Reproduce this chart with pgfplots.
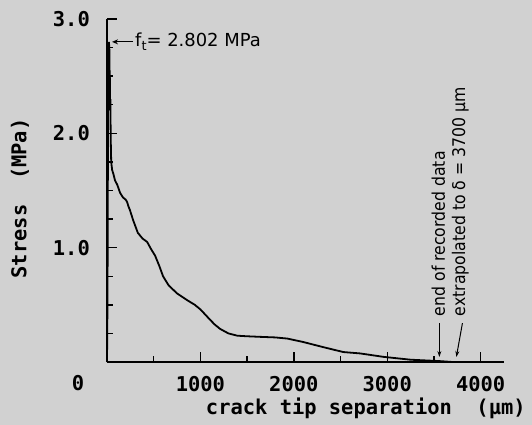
\documentclass[border=0pt]{standalone}
\usepackage{fontspec}
\setmainfont{DejaVu Sans}
\setmonofont{DejaVu Sans Mono}
\newfontfamily\narrowfont[FakeStretch=0.9]{DejaVu Sans}
\usepackage{pgfplots}
\pgfplotsset{compat=1.18}
\usetikzlibrary{arrows.meta}
\newcommand\plotfont{\ttfamily\bfseries\fontsize{20.5}{24}\selectfont}
\begin{document}
\begin{tikzpicture}
\fill[black!18] (-107bp,-63bp) rectangle (425bp,362bp);
\begin{axis}[
  width=397bp, height=343bp, scale only axis,
  xmin=0, xmax=4250, ymin=0, ymax=3.0,
  axis x line=bottom, axis y line=left,
  axis line style={line width=1.6bp, -},
  xtick={1000,2000,3000,4000}, xticklabels={1000,2000,3000,4000},
  minor xtick={500,1500,2500,3500},
  ytick={1,2,3}, yticklabels={1.0,2.0,3.0},
  minor ytick={0.25,0.5,0.75,1.25,1.5,1.75,2.25,2.5,2.75},
  tick align=inside, major tick length=10bp, minor tick length=6bp,
  every tick/.style={line width=1.4bp, black},
  xticklabel style={font=\plotfont, inner sep=0pt, anchor=north, yshift=-14bp},
  yticklabel style={font=\plotfont, inner sep=0pt, anchor=east, xshift=-17bp},
  xlabel={crack tip separation\ \ (μm)},
  ylabel={Stress\ \ (MPa)},
  xlabel style={font=\plotfont, at={(axis description cs:0.652,-0.134)}, anchor=center},
  ylabel style={font=\plotfont, at={(axis description cs:-0.219,0.477)}, anchor=center},
  clip=false,
]
\addplot[black, line width=1.8bp] coordinates {
  (0,0) (5,0.5) (8,1.2) (10,1.9) (12,2.4) (15,2.7) (20,2.80) (25,2.75)
  (28,2.5) (30,2.55) (33,2.2) (36,2.3) (40,1.95) (45,1.75) (55,1.68)
  (70,1.64) (85,1.59) (110,1.55) (140,1.48) (170,1.44) (200,1.42)
  (215,1.40) (230,1.36) (245,1.33) (280,1.24) (330,1.13) (380,1.08)
  (430,1.05) (470,0.99) (515,0.93) (560,0.84) (600,0.75) (660,0.67)
  (750,0.60) (860,0.54) (940,0.50) (1000,0.46) (1080,0.39) (1150,0.33)
  (1210,0.29) (1300,0.25) (1395,0.23) (1500,0.225) (1640,0.22)
  (1800,0.215) (1930,0.205) (2100,0.175) (2315,0.13) (2530,0.087)
  (2710,0.075) (2960,0.045) (3250,0.02) (3560,0.008) (3700,0)
};
\draw[-{Stealth[length=6bp,width=5bp]}, line width=1bp] (axis cs:279,2.80) -- (axis cs:54,2.80);
\node[anchor=west, inner sep=0pt, font=\fontsize{18}{20}\selectfont] at (axis cs:300,2.80)
  {f\raisebox{-0.35ex}{\fontsize{13}{13}\selectfont t}= 2.802 MPa};
\node[rotate=90, anchor=west, inner sep=0pt, font=\narrowfont\fontsize{17.5}{19}\selectfont] at (axis cs:3548,0.40) {end of recorded data};
\node[rotate=90, anchor=west, inner sep=0pt, font=\narrowfont\fontsize{17.5}{19}\selectfont] at (axis cs:3783,0.40) {extrapolated to δ = 3700 μm};
\draw[-{Stealth[length=6bp,width=4bp]}, line width=1bp] (axis cs:3558,0.34) -- (axis cs:3558,0.044);
\draw[-{Stealth[length=6bp,width=4bp]}, line width=1bp] (axis cs:3805,0.34) -- (axis cs:3740,0.044);
\node[font=\plotfont, inner sep=0pt] at (axis cs:-311,-0.183) {0};
\end{axis}
\pgfresetboundingbox
\path (-107bp,-63bp) rectangle (425bp,362bp);
\end{tikzpicture}
\end{document}
